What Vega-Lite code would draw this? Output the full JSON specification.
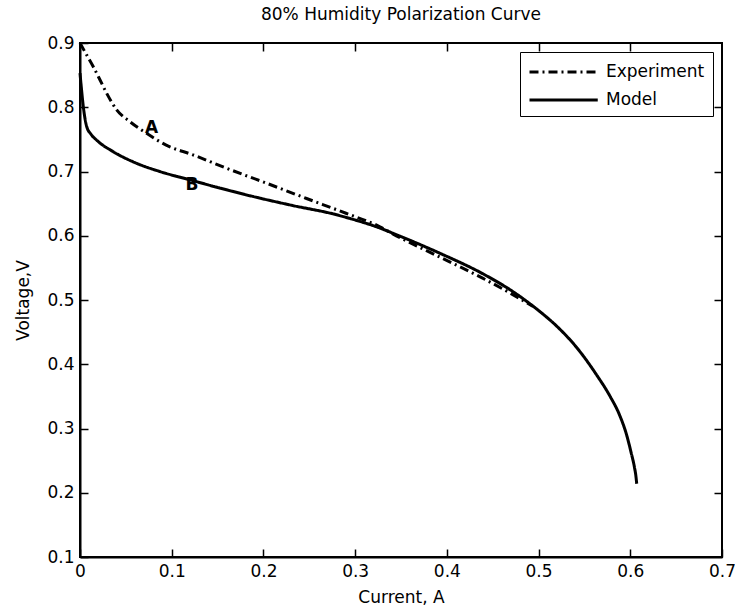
{
  "$schema": "https://vega.github.io/schema/vega-lite/v6.json",
  "width": 642,
  "height": 514,
  "autosize": {"type": "none"},
  "padding": {"left": 80, "top": 43, "right": 13, "bottom": 52},
  "background": "white",
  "title": {"text": "80% Humidity Polarization Curve", "font": "DejaVu Sans", "fontSize": 17, "fontWeight": "normal", "color": "black", "anchor": "middle", "offset": 10},
  "config": {
    "font": "DejaVu Sans",
    "view": {"stroke": "black", "strokeWidth": 2},
    "axis": {"grid": false, "domainColor": "black", "domainWidth": 2, "tickColor": "black", "tickWidth": 1.5, "tickSize": -8, "labelFont": "DejaVu Sans", "labelFontSize": 17, "labelColor": "black", "titleFont": "DejaVu Sans", "titleFontSize": 17, "titleFontWeight": "normal", "titleColor": "black"},
    "legend": {"orient": "top-right", "offset": 9, "symbolType": "M-1,0H5.5", "symbolSize": 441, "symbolStrokeWidth": 3, "symbolStrokeColor": "black", "labelFont": "DejaVu Sans", "labelFontSize": 17, "labelColor": "black", "labelOffset": 54, "rowPadding": 8, "padding": 8, "strokeColor": "black", "fillColor": "white", "cornerRadius": 0}
  },
  "datasets": {
    "curves": [
      {"series": "Experiment", "current": 0.0, "voltage": 0.9},
      {"series": "Experiment", "current": 0.007, "voltage": 0.882},
      {"series": "Experiment", "current": 0.0145, "voltage": 0.863},
      {"series": "Experiment", "current": 0.022, "voltage": 0.842},
      {"series": "Experiment", "current": 0.029, "voltage": 0.822},
      {"series": "Experiment", "current": 0.04, "voltage": 0.796},
      {"series": "Experiment", "current": 0.054, "voltage": 0.778},
      {"series": "Experiment", "current": 0.073, "voltage": 0.759},
      {"series": "Experiment", "current": 0.094, "voltage": 0.741},
      {"series": "Experiment", "current": 0.123, "voltage": 0.726},
      {"series": "Experiment", "current": 0.16, "voltage": 0.705},
      {"series": "Experiment", "current": 0.203, "voltage": 0.682},
      {"series": "Experiment", "current": 0.247, "voltage": 0.658},
      {"series": "Experiment", "current": 0.29, "voltage": 0.635},
      {"series": "Experiment", "current": 0.327, "voltage": 0.614},
      {"series": "Experiment", "current": 0.341, "voltage": 0.603},
      {"series": "Experiment", "current": 0.392, "voltage": 0.567},
      {"series": "Experiment", "current": 0.439, "voltage": 0.534},
      {"series": "Experiment", "current": 0.47, "voltage": 0.51},
      {"series": "Experiment", "current": 0.494, "voltage": 0.49},
      {"series": "Model", "current": 0.0, "voltage": 0.853},
      {"series": "Model", "current": 0.0015, "voltage": 0.83},
      {"series": "Model", "current": 0.0036, "voltage": 0.801},
      {"series": "Model", "current": 0.0073, "voltage": 0.77},
      {"series": "Model", "current": 0.012, "voltage": 0.758},
      {"series": "Model", "current": 0.018, "voltage": 0.749},
      {"series": "Model", "current": 0.036, "voltage": 0.731},
      {"series": "Model", "current": 0.058, "voltage": 0.715},
      {"series": "Model", "current": 0.087, "voltage": 0.7},
      {"series": "Model", "current": 0.12, "voltage": 0.687},
      {"series": "Model", "current": 0.153, "voltage": 0.674},
      {"series": "Model", "current": 0.189, "voltage": 0.661},
      {"series": "Model", "current": 0.232, "voltage": 0.647},
      {"series": "Model", "current": 0.276, "voltage": 0.634},
      {"series": "Model", "current": 0.294, "voltage": 0.627},
      {"series": "Model", "current": 0.327, "voltage": 0.612},
      {"series": "Model", "current": 0.341, "voltage": 0.604},
      {"series": "Model", "current": 0.392, "voltage": 0.573},
      {"series": "Model", "current": 0.439, "voltage": 0.541},
      {"series": "Model", "current": 0.47, "voltage": 0.515},
      {"series": "Model", "current": 0.497, "voltage": 0.487},
      {"series": "Model", "current": 0.52, "voltage": 0.459},
      {"series": "Model", "current": 0.541, "voltage": 0.427},
      {"series": "Model", "current": 0.563, "voltage": 0.384},
      {"series": "Model", "current": 0.578, "voltage": 0.35},
      {"series": "Model", "current": 0.588, "voltage": 0.322},
      {"series": "Model", "current": 0.596, "voltage": 0.29},
      {"series": "Model", "current": 0.601, "voltage": 0.262},
      {"series": "Model", "current": 0.6045, "voltage": 0.24},
      {"series": "Model", "current": 0.6062, "voltage": 0.225},
      {"series": "Model", "current": 0.607, "voltage": 0.214}
    ],
    "labels": [
      {"current": 0.078, "voltage": 0.767, "label": "A"},
      {"current": 0.122, "voltage": 0.679, "label": "B"}
    ]
  },
  "resolve": {"axis": {"x": "independent", "y": "independent"}},
  "layer": [
    {
      "data": {"name": "curves"},
      "mark": {"type": "line", "color": "black", "strokeWidth": 3, "interpolate": "monotone"},
      "encoding": {
        "x": {"field": "current", "type": "quantitative", "scale": {"domain": [0, 0.7], "nice": false, "zero": false}, "axis": {"orient": "bottom", "title": "Current, A", "values": [0, 0.1, 0.2, 0.3, 0.4, 0.5, 0.6, 0.7], "format": ".1~f", "labelPadding": 14, "titlePadding": 10, "labelFlush": false}},
        "y": {"field": "voltage", "type": "quantitative", "scale": {"domain": [0.1, 0.9], "nice": false, "zero": false}, "axis": {"orient": "left", "title": "Voltage,V", "values": [0.1, 0.2, 0.3, 0.4, 0.5, 0.6, 0.7, 0.8, 0.9], "format": ".1f", "labelPadding": 14, "titlePadding": 14, "labelFlush": false}},
        "detail": {"field": "series"},
        "strokeDash": {"field": "series", "type": "nominal", "title": null, "scale": {"domain": ["Experiment", "Model"], "range": [[9, 4, 2, 4], [1, 0]]}}
      }
    },
    {
      "data": {"name": "labels"},
      "mark": {"type": "text", "color": "black", "font": "DejaVu Sans", "fontSize": 17, "fontWeight": "bold", "align": "center", "baseline": "middle"},
      "encoding": {
        "x": {"field": "current", "type": "quantitative", "axis": {"orient": "top", "title": null, "labels": false, "values": [0.1, 0.2, 0.3, 0.4, 0.5, 0.6], "domain": false}},
        "y": {"field": "voltage", "type": "quantitative", "axis": {"orient": "right", "title": null, "labels": false, "values": [0.2, 0.3, 0.4, 0.5, 0.6, 0.7, 0.8], "domain": false}},
        "text": {"field": "label"}
      }
    }
  ]
}
